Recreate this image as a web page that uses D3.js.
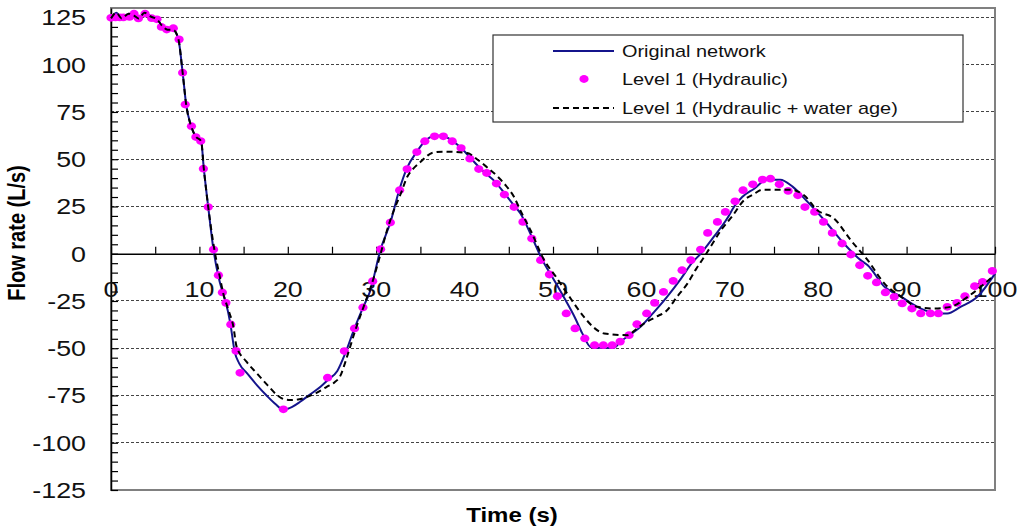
<!DOCTYPE html>
<html>
<head>
<meta charset="utf-8">
<script src="https://cdn.jsdelivr.net/npm/d3@7"></script>
<style>
  html, body { margin: 0; padding: 0; background: #fff; }
  svg { display: block; font-family: "Liberation Sans", Arial, sans-serif; }
</style>
</head>
<body>
<svg id="chart" width="1028" height="529"></svg>
<script>
// ---------------- data ----------------
const seriesNames = ["Original network", "Level 1 (Hydraulic)", "Level 1 (Hydraulic + water age)"];

// Original network (solid navy line)
const origT = [0,0.6,1.2,2,2.6,3.1,3.8,4.5,5.2,5.8,6.4,7,7.6,8.1,8.5,9.1,9.6,10.2,10.5,11,11.6,12.1,12.6,13,13.5,14,14.5,15.4,16.5,17.6,18.6,19.5,20.5,21.4,22.5,23.7,24.6,25.6,26.5,27.5,28.5,29.3,30.5,31.6,32.6,33.5,34.6,35.5,36.5,37.5,38.5,39.5,40.6,41.6,42.5,43.3,44.5,45.5,46.3,47.6,48.8,50,51.2,52.5,53.3,54.3,55.5,56.9,57.6,58.7,59.9,61.4,62.9,64.5,65.7,66.7,68.2,69.7,70.5,71.4,72.8,74.2,75.7,77.1,78.8,80.7,82.9,84.8,85.6,87.5,89.4,91.2,93.1,94.6,96.1,98,100];
const origV = [124.5,127.5,124.5,127,126,124.5,127.5,125.5,124,120.5,118.5,118.5,114,96,79,67,62,59.5,45,24.7,2,-11,-20,-26,-37,-52,-58,-63.3,-69.5,-75,-79.5,-82.5,-81,-78.3,-74.5,-70.4,-66.5,-62,-52.7,-40,-28.5,-20,2.4,16.5,33.6,45.5,54,59.5,62.3,62.6,60,56.5,51,46,42,38.8,32,26,21.4,9,-3.4,-13,-22.8,-34,-42,-49.5,-49.8,-49.8,-46.6,-43,-38.7,-31,-22.8,-13,-5,0,9,18.6,25,30,34.5,39.2,39.2,35.5,27.4,17.7,5.4,-3.4,-6.1,-17.5,-22.8,-28.1,-31.3,-31.6,-28.1,-22.8,-10.5];

// Level 1 (Hydraulic) (magenta dots)
const hydT = [0,0.5,1,1.4,2.1,2.6,3.1,3.85,4.6,5.2,5.7,6.3,7.05,7.7,8.1,8.4,9.1,9.6,10.15,10.45,11,11.6,12.15,12.6,13,13.55,14.15,14.6,19.5,24.5,26.4,27.55,28.5,29.6,30.5,31.6,32.65,33.5,34.6,35.5,36.6,37.6,38.6,39.6,40.6,41.6,42.5,43.6,44.5,45.6,46.6,47.6,48.6,49.6,50.5,51.5,52.5,53.6,54.7,55.7,56.7,57.6,58.6,59.5,60.6,61.5,62.5,63.6,64.6,65.6,66.7,67.5,68.6,69.5,70.6,71.5,72.6,73.7,74.6,75.6,76.6,77.7,78.5,79.6,80.6,81.6,82.7,83.7,84.7,85.6,86.6,87.6,88.6,89.5,90.6,91.6,92.7,93.6,94.6,95.7,96.6,97.7,98.6,99.7];
const hydV = [124.8,125,125,125,125.3,127,124.5,127,124.6,124,120,118.6,119.3,113.4,95.8,78.9,67.5,61.7,59.6,45,24.7,2.2,-11.4,-20.5,-26,-37.4,-51.4,-63,-82.3,-65.6,-51.5,-39.5,-28.4,-14.5,2.4,16.5,33.6,44.8,53.8,59.5,62.1,62.1,59.5,55.9,50.3,44.8,42.7,37.1,31.3,24.7,16.8,8,-3.4,-11,-22.5,-31.6,-39.5,-44.8,-48.4,-48.4,-48.4,-46.5,-43.1,-37.3,-31.6,-26,-20.2,-14.4,-8.7,-3.4,2.2,11,16.8,22.1,27.7,33.6,36.7,39.2,39.7,36.7,33.2,30.9,24.7,22.1,16.8,11,5.4,-0.4,-6.1,-11.7,-15.2,-20.5,-22.8,-26.3,-29,-31.6,-31.6,-31.6,-28.1,-26,-22.5,-17.2,-14.9,-9.1];

// Level 1 (Hydraulic + water age) (black dashed line)
const ageT = [0,0.6,1.2,2,2.6,3.1,3.8,4.5,5.2,5.8,6.4,7,7.6,8.1,8.5,9.1,9.6,10.2,10.5,11,11.7,12.3,12.7,13.3,13.85,14.2,15.3,16.5,17.7,18.8,19.6,20.3,21.3,22.2,23.3,24.4,25.3,25.9,26.7,27.6,28.5,29.5,30.5,31.2,32,32.8,33.5,34.2,35,35.7,36.3,37.5,40.3,41.4,42.5,43.7,44.8,45.6,46.3,47.5,49,50.3,51.6,53.5,54.6,55.8,58.4,59.4,60.3,61.6,62.9,64,65.2,66.2,67.1,68,69,70.3,71.6,72.7,73.7,76.9,78.4,79.9,81.8,83.7,85.6,87.5,89.4,91.2,93.1,95,96.9,99.9];
const ageV = [124.5,127.5,124.5,127,126,124.5,127.5,125.5,124,120.5,118.5,118.5,114,96,79,67,62,59.5,45,24.7,2,-12,-21,-30,-38.7,-49,-57,-63.3,-69.5,-74.8,-77,-77.4,-77,-75.7,-73.5,-70.4,-68,-65,-54.5,-41,-29,-16,0,12,23,32,40.6,45,48.5,51.5,53.3,54,53.3,50,45.9,41,35.3,30,23,12,-3.4,-12,-21,-33.4,-39,-42.2,-43.1,-40,-36.9,-33.5,-29.9,-23,-15.8,-8,-1.7,5,12.4,20,28.3,31.5,33.9,33.9,30.9,23,18.6,7.1,-3.4,-15.8,-22.8,-28.1,-29,-28.1,-22.8,-11.4];

const yTickLabels = [-125,-100,-75,-50,-25,0,25,50,75,100,125];
const xTickLabels = [0,10,20,30,40,50,60,70,80,90,100];
const xTitle = "Time (s)";
const yTitle = "Flow rate (L/s)";

// ---------------- layout ----------------
const svg = d3.select("#chart");
const L = 111, R = 995, T = 8, B = 490;
const x = d3.scaleLinear().domain([0, 100]).range([L, R]);
const y = d3.scaleLinear().domain([-125, 130]).range([B, T]);

const NAVY = "#14148c", MAG = "#ff00ff";

// gridlines (major y, except 0)
svg.append("g").selectAll("line")
  .data(yTickLabels.filter(d => d !== 0))
  .join("line")
  .attr("x1", L).attr("x2", R)
  .attr("y1", d => y(d)).attr("y2", d => y(d))
  .attr("stroke", "#444").attr("stroke-width", 1)
  .attr("stroke-dasharray", "3,2")
  .attr("shape-rendering", "crispEdges");

// plot frame
svg.append("rect")
  .attr("x", L).attr("y", T).attr("width", R - L).attr("height", B - T)
  .attr("fill", "none").attr("stroke", "#808080").attr("stroke-width", 2);

// y axis (ticks inside, every 5)
const yMinor = d3.range(-125, 126, 5);
const yAxis = svg.append("g")
  .attr("transform", `translate(${L},0)`)
  .call(d3.axisRight(y).tickValues(yMinor).tickSize(7).tickSizeOuter(0).tickFormat(""));
yAxis.select(".domain").attr("stroke", "#000").attr("stroke-width", 1.5);
yAxis.selectAll(".tick line").attr("stroke", "#000").attr("stroke-width", 1.2);

// x axis at y=0 (ticks upward every 5)
const xMinor = d3.range(0, 101, 5);
const xAxis = svg.append("g")
  .attr("transform", `translate(0,${y(0)})`)
  .call(d3.axisTop(x).tickValues(xMinor).tickSize(7).tickSizeOuter(0).tickFormat(""));
xAxis.select(".domain").attr("stroke", "#000").attr("stroke-width", 1.5);
xAxis.selectAll(".tick line").attr("stroke", "#000").attr("stroke-width", 1.2);

// tick labels
const labFont = 22, labSx = 1.22;
svg.append("g").selectAll("text")
  .data(yTickLabels).join("text")
  .attr("transform", d => `translate(86,${y(d) + 7.8}) scale(${labSx},1)`)
  .attr("text-anchor", "end")
  .attr("font-size", labFont)
  .attr("fill", "#111")
  .text(d => d);

svg.append("g").selectAll("text")
  .data(xTickLabels).join("text")
  .attr("transform", d => `translate(${x(d)},297) scale(${labSx},1)`)
  .attr("text-anchor", "middle")
  .attr("font-size", labFont)
  .attr("fill", "#111")
  .text(d => d);

// axis titles
svg.append("text")
  .attr("transform", `translate(${(L + R) / 2 - 41},522) scale(1.2,1)`)
  .attr("text-anchor", "middle")
  .attr("font-size", 20).attr("font-weight", "bold")
  .text(xTitle);

svg.append("text")
  .attr("transform", `translate(25,233) scale(1.2,1) rotate(-90)`)
  .attr("text-anchor", "middle")
  .attr("font-size", 20).attr("font-weight", "bold")
  .text(yTitle);

// series
const zip = (ts, vs) => ts.map((t, i) => [t, vs[i]]);
const line = d3.line().x(d => x(d[0])).y(d => y(d[1])).curve(d3.curveMonotoneX);

svg.append("path")
  .datum(zip(origT, origV))
  .attr("d", line)
  .attr("fill", "none").attr("stroke", NAVY).attr("stroke-width", 2);

svg.append("g").selectAll("ellipse")
  .data(zip(hydT, hydV)).join("ellipse")
  .attr("cx", d => x(d[0])).attr("cy", d => y(d[1]))
  .attr("rx", 4.6).attr("ry", 3.9)
  .attr("fill", MAG);

svg.append("path")
  .datum(zip(ageT, ageV))
  .attr("d", line)
  .attr("fill", "none").attr("stroke", "#000").attr("stroke-width", 2)
  .attr("stroke-dasharray", "6,4");

// legend
const lg = svg.append("g");
lg.append("rect")
  .attr("x", 493).attr("y", 35).attr("width", 470).attr("height", 87)
  .attr("fill", "#fff").attr("stroke", "#333").attr("stroke-width", 1.2);
const rows = [51, 79, 108];
lg.append("line").attr("x1", 553).attr("x2", 614).attr("y1", rows[0]).attr("y2", rows[0])
  .attr("stroke", NAVY).attr("stroke-width", 2);
lg.append("ellipse").attr("cx", 584).attr("cy", rows[1]).attr("rx", 4.6).attr("ry", 3.9).attr("fill", MAG);
lg.append("line").attr("x1", 553).attr("x2", 614).attr("y1", rows[2]).attr("y2", rows[2])
  .attr("stroke", "#000").attr("stroke-width", 2).attr("stroke-dasharray", "6,4");
lg.selectAll("text.lt").data(seriesNames).join("text")
  .attr("class", "lt")
  .attr("transform", (d, i) => `translate(622,${rows[i] + 6}) scale(1.17,1)`)
  .attr("font-size", 17)
  .attr("fill", "#111")
  .text(d => d);
</script>
</body>
</html>
